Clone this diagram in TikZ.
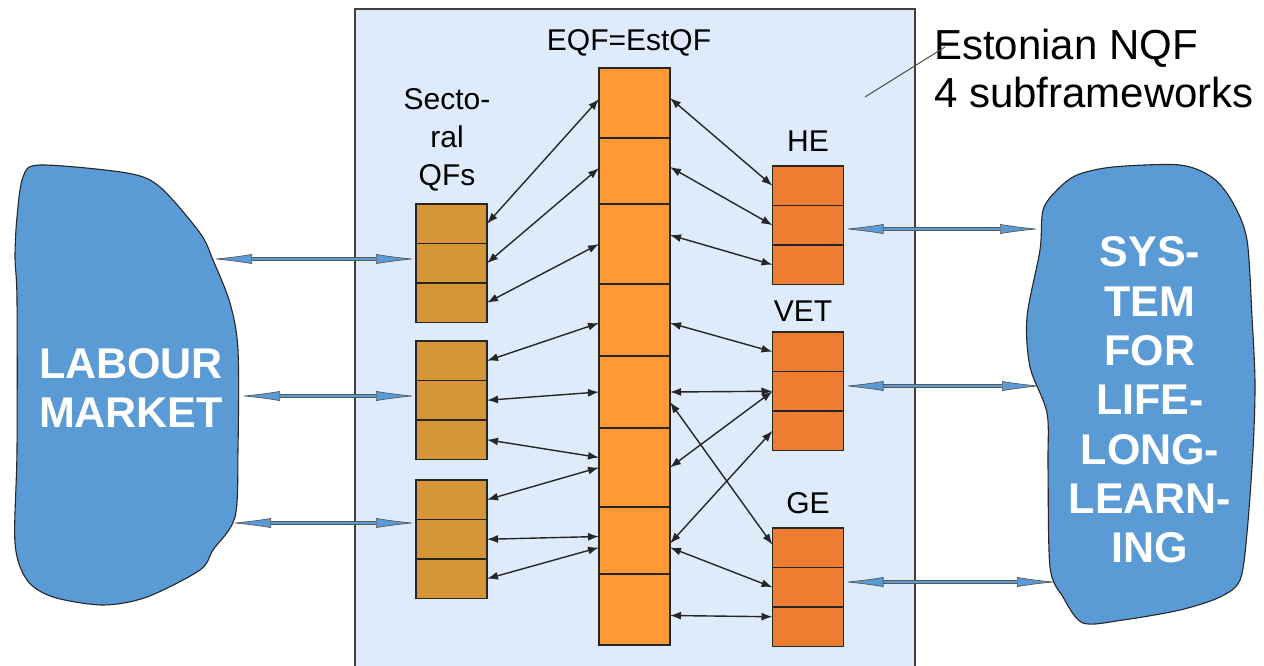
\documentclass[tikz,border=0pt]{standalone}
\usepackage{fontspec}
\setmainfont{Liberation Sans}
\usetikzlibrary{positioning,arrows.meta}
\definecolor{panel}{HTML}{DDEBFA}
\definecolor{eqffill}{HTML}{FD9A35}
\definecolor{secfill}{HTML}{D69536}
\definecolor{subfill}{HTML}{ED7D31}
\definecolor{blobfill}{HTML}{5B9BD5}
\tikzstyle{cell}=[draw=black!85,fill=#1,line width=1.3pt,minimum width=71pt,inner sep=0pt,outer sep=0pt]
\tikzstyle{tag}=[font=\fontsize{30}{38}\selectfont,inner sep=0pt,align=center]
\tikzstyle{bigtag}=[text=white,font=\bfseries\fontsize{43}{49.3}\selectfont,inner sep=0pt,align=center]
\tikzstyle{area}=[draw=black!85,fill=blobfill,line width=1.1pt]
\newcommand{\cellnode}[4]{\node[cell=#1,minimum height=#2pt,#4] (#3) {};}
\newcommand{\stack}[4]{%
  \cellnode{#1}{39.5}{#2a}{anchor=north,at={(#3,#4)}}
  \cellnode{#1}{39.5}{#2b}{below=0pt of #2a}
  \cellnode{#1}{39.5}{#2c}{below=0pt of #2b}}
\newcommand{\qflink}[2]{\draw[link] (#1) -- (#2);}
\tikzset{
  link/.style={line width=1.4pt,black!85,{Latex[length=11pt,width=8pt]}-{Latex[length=11pt,width=8pt]}},
  bridge/.style={draw=black!65,double=blobfill,double distance=2.6pt,line width=0.7pt,
    {Latex[length=40pt,width=10pt,fill=blobfill,color=black!65]}-{Latex[length=40pt,width=10pt,fill=blobfill,color=black!65]}},
}
\begin{document}
\begin{tikzpicture}[x=1pt,y=-1pt]
    \useasboundingbox (0,0) rectangle (1264,665);
    % the national framework
    \draw[fill=panel,draw=black!75,line width=1.5pt] (355,9) rectangle (915,690);
    \node[tag] (eqf) at (629,43) {EQF=EstQF};
    \node[tag] (sect) at (447,140) {Secto-\\ral\\QFs};
    \node[tag] (he) at (808,141) {HE};
    \node[tag] (vet) at (803,311) {VET};
    \node[tag] (ge) at (808,503) {GE};
    \node[font=\fontsize{42}{48}\selectfont,inner sep=0pt,align=left,anchor=north west] (nqf) at (934,29) {Estonian NQF\\4 subframeworks};
    \coordinate (pin) at (865,97);
    \draw[black!70,line width=1pt] (pin) -- ([xshift=11pt,yshift=-18pt]nqf.north west);

    % EQF levels
    \cellnode{eqffill}{70}{e1}{anchor=north,at={(634.5,68)}}
    \cellnode{eqffill}{66}{e2}{below=0pt of e1}
    \cellnode{eqffill}{80}{e3}{below=0pt of e2}
    \cellnode{eqffill}{72}{e4}{below=0pt of e3}
    \cellnode{eqffill}{72}{e5}{below=0pt of e4}
    \cellnode{eqffill}{79}{e6}{below=0pt of e5}
    \cellnode{eqffill}{67}{e7}{below=0pt of e6}
    \cellnode{eqffill}{71}{e8}{below=0pt of e7}

    % sectoral and subframeworks
    \stack{secfill}{s1}{451.5}{204}
    \stack{secfill}{s2}{451.5}{341}
    \stack{secfill}{s3}{451.5}{480}
    \stack{subfill}{he}{808}{166}
    \stack{subfill}{vet}{808}{332}
    \stack{subfill}{ge}{808}{528}

    \qflink{s1a.east}{[yshift=4pt]e1.west}
    \qflink{s1b.east}{[yshift=3pt]e2.west}
    \qflink{s1c.east}{e3.west}
    \qflink{s2a.east}{[yshift=-3pt]e4.west}
    \qflink{s2b.east}{e5.west}
    \qflink{s2c.east}{[yshift=10pt]e6.west}
    \qflink{s3a.east}{e6.west}
    \qflink{s3b.east}{[yshift=4pt]e7.west}
    \qflink{s3c.east}{[yshift=-7pt]e7.west}

    \qflink{[yshift=5pt]e1.east}{hea.west}
    \qflink{[yshift=4pt]e2.east}{heb.west}
    \qflink{[yshift=9pt]e3.east}{hec.west}
    \qflink{[yshift=-3pt]e4.east}{veta.west}
    \qflink{e5.east}{vetb.west}
    \qflink{e6.east}{vetb.west}
    \qflink{[yshift=-3pt]e7.east}{vetc.west}
    \qflink{[yshift=-10pt]e5.east}{[yshift=3pt]gea.west}
    \qflink{[yshift=-7pt]e7.east}{geb.west}
    \qflink{[yshift=-6pt]e8.east}{[yshift=10pt]gec.west}

    % labour market
    \draw[area] plot[smooth cycle,tension=0.5] coordinates {(40,165) (127,173) (160,187) (200,233) (213,260)
      (230,303) (238,350) (238,450) (235,517) (213,550) (200,570) (147,597) (103,605) (53,597)
      (27,580) (15,543) (17,450) (17,300) (15,257) (17,217) (23,177)};
    \node[bigtag] (labour) at (131,388) {LABOUR\\MARKET};
    \coordinate (lm1) at (212,259);
    \coordinate (lm2) at (240,396);
    \coordinate (lm3) at (231,523);
    \draw[bridge] (lm1) -- (lm1 -| s1b.west);
    \draw[bridge] (lm2) -- (lm2 -| s2b.west);
    \draw[bridge] (lm3) -- (lm3 -| s3b.west);

    % lifelong learning
    \draw[area] plot[smooth cycle,tension=0.5] coordinates {(1077,175) (1113,167) (1180,165) (1213,178)
      (1233,203) (1247,240) (1252,317) (1255,383) (1253,450) (1247,533) (1240,580) (1220,597)
      (1180,610) (1123,620) (1083,623) (1063,597) (1050,567) (1048,467) (1047,413) (1030,367)
      (1027,317) (1040,250) (1043,210) (1057,190)};
    \node[bigtag] (lll) at (1150,400) {SYS-\\TEM\\FOR\\LIFE-\\LONG-\\LEARN-\\ING};
    \coordinate (ll1) at (1040,229);
    \coordinate (ll2) at (1042,386);
    \coordinate (ll3) at (1057,582);
    \draw[bridge] (ll1 -| heb.east) -- (ll1);
    \draw[bridge] (ll2 -| vetb.east) -- (ll2);
    \draw[bridge] (ll3 -| geb.east) -- (ll3);
\end{tikzpicture}
\end{document}
